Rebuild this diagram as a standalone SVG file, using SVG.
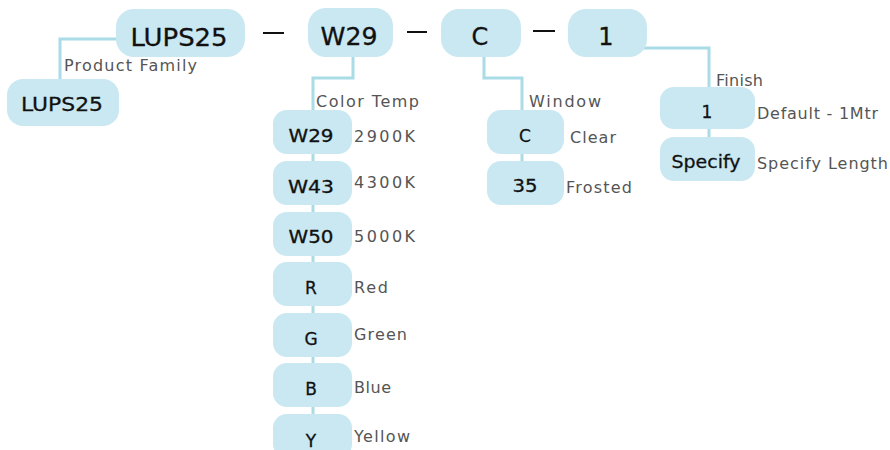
<svg xmlns="http://www.w3.org/2000/svg" width="890" height="450" viewBox="0 0 890 450">
<style>
.box{fill:#c9e8f1}
.n{font-family:"DejaVu Sans",sans-serif;fill:#111;text-anchor:middle;stroke:#111;stroke-width:0.3}
.t{font-size:24px}
.c{font-size:17px}
.l{font-family:"DejaVu Sans",sans-serif;font-size:16px;fill:#555}
.conn{fill:none;stroke:#a9dce6;stroke-width:3}
.dash{stroke:#111;stroke-width:2}
</style>
<rect width="890" height="450" fill="#fff"/>
<g id="connectors">
<path class="conn" d="M117,39 H60 V79"/>
<path class="conn" d="M353,57 V78 H313 V450"/>
<path class="conn" d="M484,57 V78 H522 V180"/>
<path class="conn" d="M638,48 H709 V160"/>
<line class="dash" x1="263" y1="33" x2="284" y2="33"/>
<line class="dash" x1="407" y1="32" x2="427" y2="32"/>
<line class="dash" x1="533" y1="31" x2="555" y2="31"/>
</g>
<g id="n-lups25"><rect class="box" x="116" y="9" width="129" height="48" rx="18"/><text class="n t" x="179" y="46" textLength="97" lengthAdjust="spacingAndGlyphs">LUPS25</text></g>
<g id="n-w29"><rect class="box" x="308" y="8" width="85" height="49" rx="18"/><text class="n t" x="349" y="45" textLength="57" lengthAdjust="spacingAndGlyphs">W29</text></g>
<g id="n-c"><rect class="box" x="441" y="9" width="80" height="48" rx="18"/><text class="n t" x="480" y="45">C</text></g>
<g id="n-1"><rect class="box" x="568" y="9" width="79" height="48" rx="18"/><text class="n t" x="606" y="45">1</text></g>
<g id="n-lups25-child"><rect class="box" x="7" y="79" width="112" height="47" rx="16"/><text class="n" style="font-size:20px" x="62" y="111" textLength="82" lengthAdjust="spacingAndGlyphs">LUPS25</text></g>
<text class="l" x="64" y="71" textLength="133" lengthAdjust="spacing">Product Family</text>
<text class="l" x="316" y="107" textLength="103" lengthAdjust="spacing">Color Temp</text>
<g id="n-w29c"><rect class="box" x="273" y="110" width="79" height="44" rx="14"/><text class="n c" x="311" y="142" textLength="45" lengthAdjust="spacingAndGlyphs">W29</text></g>
<g id="n-w43"><rect class="box" x="273" y="161" width="79" height="44" rx="14"/><text class="n c" x="311" y="193" textLength="46" lengthAdjust="spacingAndGlyphs">W43</text></g>
<g id="n-w50"><rect class="box" x="273" y="212" width="79" height="44" rx="14"/><text class="n c" x="311" y="243" textLength="45" lengthAdjust="spacingAndGlyphs">W50</text></g>
<g id="n-r"><rect class="box" x="273" y="262" width="79" height="44" rx="14"/><text class="n c" x="311" y="294">R</text></g>
<g id="n-g"><rect class="box" x="273" y="313" width="79" height="44" rx="14"/><text class="n c" x="311" y="345">G</text></g>
<g id="n-b"><rect class="box" x="273" y="363" width="79" height="44" rx="14"/><text class="n c" x="311" y="395">B</text></g>
<g id="n-y"><rect class="box" x="273" y="414" width="79" height="44" rx="14"/><text class="n c" x="311" y="447">Y</text></g>
<text class="l" x="354" y="142" textLength="61" lengthAdjust="spacing">2900K</text>
<text class="l" x="354" y="188" textLength="61" lengthAdjust="spacing">4300K</text>
<text class="l" x="354" y="242" textLength="61" lengthAdjust="spacing">5000K</text>
<text class="l" x="354" y="293" textLength="34" lengthAdjust="spacing">Red</text>
<text class="l" x="354" y="340" textLength="53" lengthAdjust="spacing">Green</text>
<text class="l" x="354" y="393" textLength="37" lengthAdjust="spacing">Blue</text>
<text class="l" x="354" y="442" textLength="56" lengthAdjust="spacing">Yellow</text>
<text class="l" x="529" y="107" textLength="72" lengthAdjust="spacing">Window</text>
<g id="n-cc"><rect class="box" x="487" y="110" width="77" height="44" rx="14"/><text class="n c" x="525" y="142">C</text></g>
<g id="n-35"><rect class="box" x="487" y="161" width="77" height="44" rx="14"/><text class="n c" x="525" y="192" textLength="25" lengthAdjust="spacingAndGlyphs">35</text></g>
<text class="l" x="570" y="143" textLength="46" lengthAdjust="spacing">Clear</text>
<text class="l" x="566" y="193" textLength="66" lengthAdjust="spacing">Frosted</text>
<text class="l" x="716" y="86" textLength="47" lengthAdjust="spacing">Finish</text>
<g id="n-1c"><rect class="box" x="660" y="87" width="95" height="42" rx="14"/><text class="n c" x="707" y="118">1</text></g>
<g id="n-specify"><rect class="box" x="660" y="137" width="95" height="44" rx="14"/><text class="n c" x="706" y="168" textLength="69" lengthAdjust="spacingAndGlyphs">Specify</text></g>
<text class="l" x="757" y="119" textLength="121" lengthAdjust="spacing">Default - 1Mtr</text>
<text class="l" x="757" y="169" textLength="131" lengthAdjust="spacing">Specify Length</text>
</svg>
